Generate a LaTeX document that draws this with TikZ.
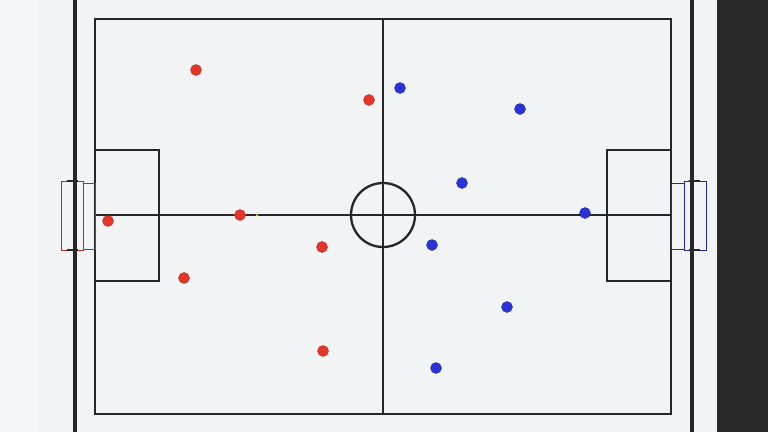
\documentclass[tikz,border=0pt]{standalone}
\usepackage{tikz}
\usetikzlibrary{positioning}
\definecolor{pitchbg}{HTML}{F2F3F5}
\definecolor{stripbg}{HTML}{F4F5F6}
\definecolor{sidebar}{HTML}{282828}
\definecolor{linegray}{HTML}{262626}
\definecolor{homered}{HTML}{E53528}
\definecolor{awayblue}{HTML}{2A34D6}
\begin{document}
\begin{tikzpicture}[x=1pt, y=-1pt,
  pitchline/.style={draw=linegray, line width=2.3pt},
  boundline/.style={draw=linegray, line width=3.8pt},
  homeplayer/.style={circle, fill=homered, draw=homered!80!black, line width=0.4pt, minimum size=11pt, inner sep=0pt},
  awayplayer/.style={circle, fill=awayblue, draw=awayblue!80!black, line width=0.4pt, minimum size=11pt, inner sep=0pt},
  ballmark/.style={circle, fill=yellow!80!green, inner sep=0pt, minimum size=2.5pt},
  homegoal/.style={draw=homered!80!black, line width=0.9pt},
  awaygoal/.style={draw=awayblue!80!black, line width=0.9pt},
  post/.style={draw=linegray, line width=1.4pt},
]
% background
\fill[pitchbg] (0,0) rectangle (768,432);
\fill[stripbg] (0,0) rectangle (38,432);
\fill[sidebar] (717,0) rectangle (768,432);
\useasboundingbox (0,0) rectangle (768,432);

% outer boundary lines
\draw[boundline] (75,0) -- (75,432);
\draw[boundline] (692,0) -- (692,432);

% pitch markings
\draw[pitchline] (95,19) rectangle (671,414);
\draw[pitchline] (383,19) -- (383,414);
\draw[pitchline] (95,215) -- (671,215);
\draw[pitchline] (383,215) circle (32);
\draw[pitchline] (95,150) rectangle (159,281);
\draw[pitchline] (671,150) rectangle (607,281);

% goals
\draw[homegoal] (61,181) rectangle (83,250);
\draw[homegoal] (83,183) rectangle (95,249);
\draw[post] (67,181) -- (78,181);
\draw[post] (67,250) -- (78,250);
\draw[awaygoal] (684,181) rectangle (706,250);
\draw[awaygoal] (671,183) rectangle (684,249);
\draw[post] (689,181) -- (700,181);
\draw[post] (689,250) -- (700,250);

% home team
\node[homeplayer] (h1) at (108,221) {};
\node[homeplayer] (h2) at (196,70) {};
\node[homeplayer] (h3) at (184,278) {};
\node[homeplayer] (h4) at (240,215) {};
\node[homeplayer] (h5) at (322,247) {};
\node[homeplayer] (h6) at (323,351) {};
\node[homeplayer] (h7) at (369,100) {};

% away team
\node[awayplayer] (a1) at (585,213) {};
\node[awayplayer] (a2) at (520,109) {};
\node[awayplayer] (a3) at (507,307) {};
\node[awayplayer] (a4) at (462,183) {};
\node[awayplayer] (a5) at (432,245) {};
\node[awayplayer] (a6) at (436,368) {};
\node[awayplayer] (a7) at (400,88) {};

% ball
\node[ballmark] (ball) at (257,215) {};
\end{tikzpicture}
\end{document}
